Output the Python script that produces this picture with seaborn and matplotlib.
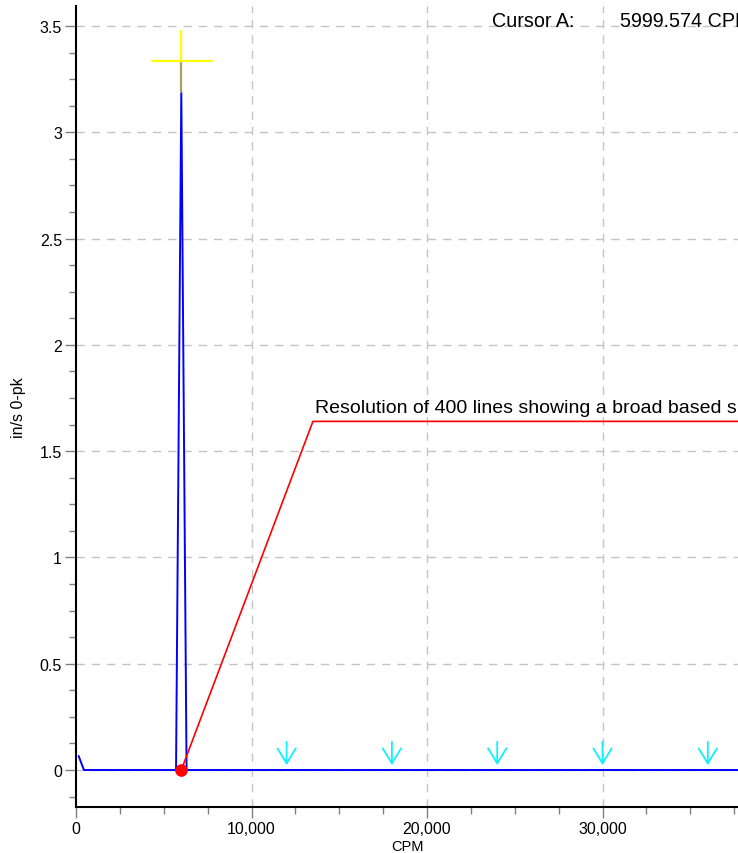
import matplotlib
matplotlib.use("Agg")
import matplotlib.pyplot as plt
import matplotlib.ticker as mticker
import seaborn as sns
import pandas as pd

# ---- data ----
spec_cpm = [150, 450, 5700, 6000, 6300, 40000]
spec_amp = [0.066, 0.0, 0.0, 3.19, 0.0, 0.0]

cursor_cpm = 5999.574
cursor_amp = 0.0
peak_amp = 3.19
cross_amp = 3.335

harmonic_cpm = [12000, 18000, 24000, 30000, 36000]

annot_x = [6000, 13500, 40000]
annot_y = [0.0, 1.64, 1.64]
annot_text = "Resolution of 400 lines showing a broad based spike"
cursor_label = "Cursor A:"
cursor_value = "5999.574 CPM"

xlim = (0, 37720)
ylim = (-0.174, 3.594)
x_major = [0, 10000, 20000, 30000]
y_major = [0, 0.5, 1, 1.5, 2, 2.5, 3, 3.5]

sns.set_theme(style="white")
plt.rcParams['font.family'] = ['Liberation Sans', 'DejaVu Sans']
plt.rcParams['text.color'] = 'black'
plt.rcParams['axes.labelcolor'] = 'black'

fig = plt.figure(figsize=(7.38, 8.54), dpi=100)
ax = fig.add_axes([76/738, 1-808/854, (738-76)/738, (808-7)/854])

df = pd.DataFrame({"CPM": spec_cpm, "amp": spec_amp})

# grid
for xv in x_major[1:]:
    ax.axvline(xv, color="#c4c4c4", lw=1, ls=(0, (6, 5)), zorder=0)
for yv in y_major:
    ax.axhline(yv, color="#c4c4c4", lw=1, ls=(0, (6, 5)), zorder=0)

sns.lineplot(data=df, x="CPM", y="amp", ax=ax, color="#0000ff", lw=1.4,
             estimator=None, sort=False, zorder=3)

# cursor cross
ax.plot([cursor_cpm, cursor_cpm], [peak_amp, cross_amp], color="#a8a060", lw=1.6, zorder=4)
ax.plot([cursor_cpm, cursor_cpm], [cross_amp, 3.476], color="#ffff00", lw=1.6, zorder=4)
ax.plot([4330, 7750], [cross_amp, cross_amp], color="#ffff00", lw=1.6, zorder=4)

# annotation polyline
ax.plot(annot_x, annot_y, color="#ff0000", lw=1.2, zorder=5)
ax.text(13620, 1.665, annot_text, fontsize=14, color="black", ha="left", va="bottom")

# cursor marker
sns.scatterplot(x=[cursor_cpm], y=[cursor_amp], ax=ax, color="#ff0000", s=70,
                edgecolor="#ff0000", zorder=6)

# harmonic arrows
for h in harmonic_cpm:
    ax.annotate("", xy=(h, 0.01), xytext=(h, 0.146),
                arrowprops=dict(arrowstyle="->,head_length=0.9,head_width=0.55",
                                color="#10f0ff", lw=1.3), zorder=5)

# cursor readout
fig.text(492/738, 1-27/854, cursor_label, fontsize=14.2, color="black",
         ha="left", va="baseline")
fig.text(620/738, 1-27/854, cursor_value, fontsize=14.2, color="black",
         ha="left", va="baseline")

ax.set_xlim(*xlim)
ax.set_ylim(*ylim)
ax.set_xticks(x_major)
ax.set_yticks(y_major)
ax.xaxis.set_major_formatter(mticker.FuncFormatter(lambda v, p: f"{int(v):,}"))
ax.yaxis.set_major_formatter(mticker.FuncFormatter(lambda v, p: f"{v:g}"))
ax.xaxis.set_minor_locator(mticker.MultipleLocator(2500))
ax.yaxis.set_minor_locator(mticker.MultipleLocator(0.125))
ax.tick_params(which="major", direction="out", length=8, width=1, color="#808080",
               labelsize=11.5, labelcolor="black", pad=2, bottom=True, left=True)
ax.tick_params(which="minor", direction="out", length=5, width=1, color="#808080",
               bottom=True, left=True)
for s in ["top", "right"]:
    ax.spines[s].set_visible(False)
for s in ["left", "bottom"]:
    ax.spines[s].set_color("black")
    ax.spines[s].set_linewidth(1.5)

ax.set_xlabel("CPM", fontsize=10.5, labelpad=2, color="black")
ax.set_ylabel("in/s 0-pk", fontsize=11.5, labelpad=10, color="black")

fig.savefig("out.png", dpi=100)
